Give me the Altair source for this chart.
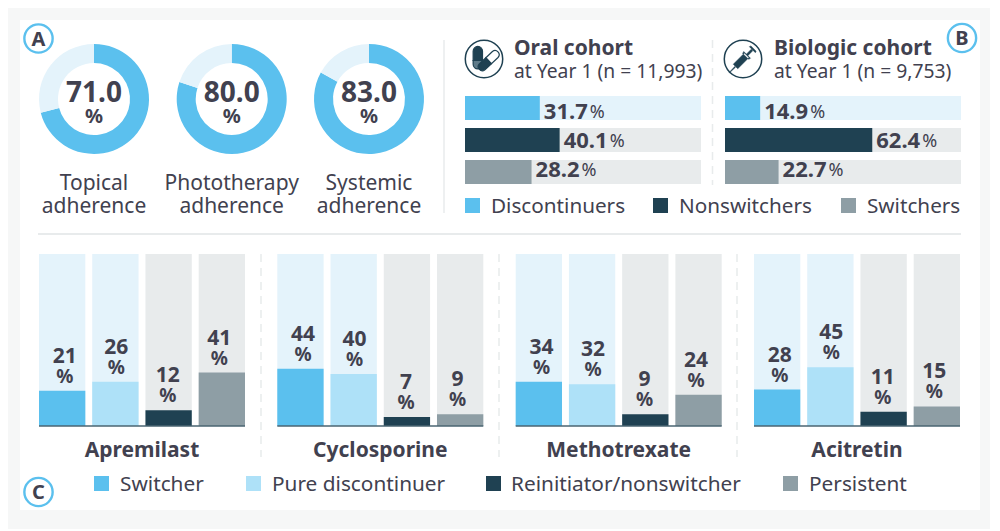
import altair as alt
import pandas as pd

TEXT = "#41414f"
BLUE = "#5bc0ee"
PALE = "#aee1f8"
LIGHT = "#e4f3fb"
DARK = "#1f4152"
GREY = "#8e9ea5"
LGREY = "#e8ebec"
FONT = "Noto Sans"
OX, OY = 8, 8

adherence_names = ["Topical", "Phototherapy", "Systemic"]
adherence_values = [71.0, 80.0, 83.0]
cohort_rows = ["Discontinuers", "Nonswitchers", "Switchers"]
oral_values = [31.7, 40.1, 28.2]
biologic_values = [14.9, 62.4, 22.7]
drugs = ["Apremilast", "Cyclosporine", "Methotrexate", "Acitretin"]
c_series = ["Switcher", "Pure discontinuer", "Reinitiator/nonswitcher", "Persistent"]
# printed labels
c_labels = {
    "Apremilast": [21, 26, 12, 41],
    "Cyclosporine": [44, 40, 7, 9],
    "Methotrexate": [34, 32, 9, 24],
    "Acitretin": [28, 45, 11, 15],
}
# bar heights as drawn in the picture (two Apremilast bars are taller than their labels)
c_heights = {
    "Apremilast": [27, 34, 12, 41],
    "Cyclosporine": [44, 40, 7, 9],
    "Methotrexate": [34, 32, 9, 24],
    "Acitretin": [28, 45, 11, 15],
}

layers = []
one = pd.DataFrame({"a": [1]})


def label(text, x, y, size=21, weight="normal", align="center", color=TEXT):
    layers.append(
        alt.Chart(one)
        .mark_text(text=text, font=FONT, fontSize=size, fontWeight=weight, align=align,
                   baseline="middle", color=color)
        .encode(x=alt.value(x - OX), y=alt.value(y - OY + 1.5))
    )


def rect(x, x2, y, y2, color):
    layers.append(
        alt.Chart(one).mark_rect(color=color)
        .encode(x=alt.value(x - OX), x2=alt.value(x2 - OX), y=alt.value(y - OY), y2=alt.value(y2 - OY))
    )


def rule(x, x2, y, y2, color, width=1.5, dash=None):
    kw = {"strokeDash": dash} if dash else {}
    layers.append(
        alt.Chart(one).mark_rule(color=color, strokeWidth=width, **kw)
        .encode(x=alt.value(x - OX), x2=alt.value(x2 - OX), y=alt.value(y - OY), y2=alt.value(y2 - OY))
    )


def badge(letter, x, y):
    layers.append(
        alt.Chart(one).mark_point(shape="circle", size=800, stroke=BLUE, strokeWidth=2.4,
                                  fill="white", filled=True, opacity=1)
        .encode(x=alt.value(x - OX), y=alt.value(y - OY))
    )
    label(letter, x, y - 0.5, size=20, weight="bold")


def glyph(path, cx, cy, fill=None, width=1.2):
    kw = {"fill": fill, "filled": True} if fill else {"filled": False}
    layers.append(
        alt.Chart(one).mark_point(shape=path, size=1400, stroke=DARK, strokeWidth=width, opacity=1, **kw)
        .encode(x=alt.value(cx - OX), y=alt.value(cy - OY))
    )


def legend(entries, y, sq, size):
    for name, color, xs, xt in entries:
        rect(xs, xs + sq, y - sq / 2, y + sq / 2, color)
        label(name, xt, y, size=size, align="left")


# white card
rect(20, 980, 20, 510, "white")

# A: donuts
for name, val, cx in zip(adherence_names, adherence_values, [94, 231.7, 369]):
    d = pd.DataFrame({"part": ["adherent", "rest"], "v": [val, 100 - val]})
    layers.append(
        alt.Chart(d).mark_arc(outerRadius=55, innerRadius=36)
        .encode(
            x=alt.value(cx - OX), y=alt.value(99 - OY),
            theta=alt.Theta("v:Q", stack=True, scale=alt.Scale(domain=[0, 100], range=[0, 6.28318530718])),
            order=alt.Order("part:N"),
            color=alt.Color("part:N", legend=None, scale=alt.Scale(domain=["adherent", "rest"], range=[BLUE, LIGHT])),
        )
    )
    label(f"{val:.1f}", cx, 92.5, size=28, weight="bold")
    label("%", cx, 115.5, size=20, weight="bold")
    label(name, cx, 182.5, size=21)
    label("adherence", cx, 205.5, size=21)

# B: cohort bars
color_b = alt.Scale(domain=cohort_rows, range=[BLUE, DARK, GREY])
for vals, x0, x1 in [(oral_values, 465, 701), (biologic_values, 725, 961)]:
    d = pd.DataFrame({"row": cohort_rows, "v": vals, "full": [100, 100, 100],
                      "t": [f"{v:.1f}" for v in vals]})
    xs = alt.Scale(domain=[0, 100], range=[x0 - OX, x1 - OX])
    ys = alt.Scale(domain=cohort_rows, range=[96 - OY, 184 - OY], paddingInner=0.25, paddingOuter=0)
    X = alt.X("v:Q", scale=xs, axis=None)
    Y = alt.Y("row:N", scale=ys, axis=None)
    layers.append(
        alt.Chart(d).mark_bar().encode(
            x=alt.X("full:Q", scale=xs, axis=None), y=Y,
            color=alt.Color("row:N", legend=None, scale=alt.Scale(domain=cohort_rows, range=[LIGHT, LGREY, LGREY])),
        )
    )
    layers.append(alt.Chart(d).mark_bar().encode(
        x=X, y=Y, color=alt.Color("row:N", legend=None, scale=color_b)))
    layers.append(alt.Chart(d).mark_text(font=FONT, fontSize=22, fontWeight="bold", align="left", dx=4, dy=1,
                                         color=TEXT, baseline="middle")
                  .encode(x=X, y=Y, text="t:N"))
    layers.append(alt.Chart(d).mark_text(text="%", font=FONT, fontSize=18, align="left", dx=50, dy=2,
                                         color=TEXT, baseline="middle")
                  .encode(x=X, y=Y))

label("Oral cohort", 514, 47, size=21, weight="bold", align="left")
label("at Year 1 (n = 11,993)", 514, 70.5, size=19.3, align="left")
label("Biologic cohort", 774, 47, size=21, weight="bold", align="left")
label("at Year 1 (n = 9,753)", 774, 70.5, size=19.3, align="left")
legend([("Discontinuers", BLUE, 465, 491), ("Nonswitchers", DARK, 653, 679), ("Switchers", GREY, 841, 867)],
       205.5, 15, 20.7)

# icons
for cx in [484, 743]:
    layers.append(alt.Chart(one).mark_point(shape="circle", size=1400, stroke=DARK, strokeWidth=1.5, opacity=1)
                  .encode(x=alt.value(cx - OX), y=alt.value(59 - OY)))
PILL_TOP = "M-.58,-.42 A.25,.25 0 0 1 -.08,-.42 L-.08,.08 L-.58,.08 Z"
PILL_BOTTOM = "M-.58,.08 L-.08,.08 L-.08,.28 A.25,.25 0 0 1 -.58,.28 Z"
CAPS_DARK = "M.10,-.07 L-.25,.26 A.22,.22 0 0 0 .05,.58 L.40,.25 Z"
CAPS_LIGHT = "M.10,-.07 L.45,-.40 A.22,.22 0 0 1 .75,-.08 L.40,.25 Z"
SYRINGE = ("M-.74,.72 L-.72,.74 L-.40,.44 L-.44,.40 Z "
           "M-.52,.28 L-.28,.52 L.32,-.08 L.08,-.32 Z "
           "M-.02,-.30 L.04,-.40 L.40,-.04 L.30,.02 Z "
           "M.18,-.26 L.26,-.18 L.52,-.44 L.44,-.52 Z "
           "M.34,-.66 L.42,-.70 L.70,-.42 L.66,-.34 Z")
glyph(PILL_BOTTOM, 484, 59, fill="#5f7b89")
glyph(PILL_TOP, 484, 59, fill=DARK)
glyph(CAPS_DARK, 484, 59, fill=DARK)
glyph(CAPS_LIGHT, 484, 59, fill="white")
glyph(SYRINGE, 743, 59, fill=DARK, width=0.5)

# C: four small bar panels
color_c = alt.Scale(domain=c_series, range=[BLUE, PALE, DARK, GREY])
back_c = alt.Scale(domain=c_series, range=[LIGHT, LIGHT, LGREY, LGREY])
for drug, x0 in zip(drugs, [39, 277.3, 515.7, 754]):
    x1 = x0 + 206
    d = pd.DataFrame({"s": c_series, "v": c_heights[drug], "lab": c_labels[drug], "full": [132] * 4})
    xs = alt.Scale(domain=c_series, range=[x0 - OX, x1 - OX], paddingInner=0.13, paddingOuter=0)
    ys = alt.Scale(domain=[0, 132], range=[426 - OY, 254 - OY])
    X = alt.X("s:N", scale=xs, axis=None, sort=c_series)
    Yv = alt.Y("v:Q", scale=ys, axis=None)
    layers.append(alt.Chart(d).mark_bar().encode(
        x=X, y=alt.Y("full:Q", scale=ys, axis=None), color=alt.Color("s:N", legend=None, scale=back_c)))
    layers.append(alt.Chart(d).mark_bar().encode(
        x=X, y=Yv, color=alt.Color("s:N", legend=None, scale=color_c)))
    layers.append(alt.Chart(d).mark_text(font=FONT, fontSize=21, fontWeight="bold", color=TEXT,
                                         baseline="middle", dy=-34)
                  .encode(x=X, y=Yv, text="lab:Q"))
    layers.append(alt.Chart(d).mark_text(text="%", font=FONT, fontSize=19, fontWeight="bold", color=TEXT,
                                         baseline="middle", dy=-14)
                  .encode(x=X, y=Yv))
    rule(x0, x1, 426, 426, "#4a6472", width=1.5)
    label(drug, (x0 + x1) / 2, 449, size=21, weight="bold")

for x in [261, 499, 737]:
    rule(x, x, 254, 457, "#e8ebec", width=1.5, dash=[8, 6])
rule(712.5, 712.5, 40, 185, "#e8ebec", width=1.5, dash=[8, 6])
rule(444, 444, 40, 213, "#e8ebec", width=1.5)
rule(38, 961, 234, 234, "#e8ebec", width=2)

legend([("Switcher", BLUE, 94, 120), ("Pure discontinuer", PALE, 246, 272),
        ("Reinitiator/nonswitcher", DARK, 486, 511), ("Persistent", GREY, 783, 809)], 483.5, 15, 20.8)

badge("A", 38.5, 38.5)
badge("B", 962, 38)
badge("C", 38.5, 492)

chart = (
    alt.layer(*layers)
    .resolve_scale(x="independent", y="independent", color="independent", theta="independent")
    .properties(width=982, height=521, padding=0, autosize=alt.AutoSizeParams(type="none"),
                background="#f6f7f7")
    .configure_view(stroke=None)
)
chart.save("out.html", embed_options={"renderer": "svg", "actions": False})
